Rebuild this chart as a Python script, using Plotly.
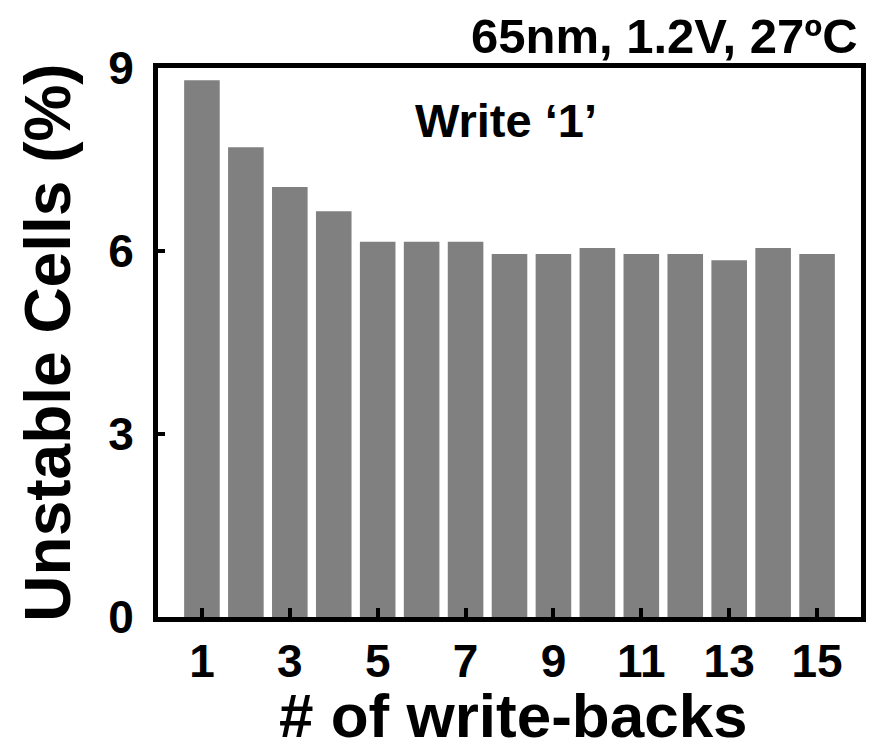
import plotly.graph_objects as go

write_backs = list(range(1, 16))
unstable_pct = [8.8, 7.7, 7.05, 6.65, 6.15, 6.15, 6.15, 5.95, 5.95, 6.05, 5.95, 5.95, 5.85, 6.05, 5.95]
x_ticks = [1, 3, 5, 7, 9, 11, 13, 15]
y_ticks = [0, 3, 6, 9]

FONT = "Liberation Sans, Arial, sans-serif"

fig = go.Figure(go.Bar(x=write_backs, y=unstable_pct, width=0.81,
                       marker=dict(color="#808080", line=dict(width=0))))

fig.update_layout(
    width=874, height=742,
    margin=dict(l=158, r=8, t=68, b=125),
    plot_bgcolor="white", paper_bgcolor="white",
    showlegend=False,
    font=dict(family=FONT, color="black"),
    xaxis=dict(range=[0, 16], tickvals=x_ticks, ticktext=[str(v) for v in x_ticks],
               ticks="inside", ticklen=9, tickwidth=4, tickcolor="black",
               showline=True, linewidth=5, linecolor="black", mirror=True,
               showgrid=False, zeroline=False,
               tickfont=dict(family=FONT, size=46, weight="bold")),
    yaxis=dict(range=[0, 9], tickvals=y_ticks,
               ticks="inside", ticklen=7, tickwidth=4, tickcolor="black",
               showline=True, linewidth=5, linecolor="black", mirror=True,
               showgrid=False, zeroline=False,
               tickfont=dict(family=FONT, size=46, weight="bold"),
               ticklabelstandoff=10,
               title=dict(text="Unstable Cells (%)", standoff=18,
                          font=dict(family=FONT, size=64, weight="bold"))),
    annotations=[
        dict(text="# of write-backs", x=0.505, y=-0.18, xref="paper", yref="paper",
             showarrow=False, xanchor="center", yanchor="middle",
             font=dict(family=FONT, size=62, weight="bold")),
        dict(text="Write \u20181\u2019", x=0.495, y=0.905, xref="paper", yref="paper",
             showarrow=False, xanchor="center", yanchor="middle",
             font=dict(family=FONT, size=47, weight="bold")),
        dict(text="65nm, 1.2V, 27\u00baC", x=0.9985, y=1.005, xref="paper", yref="paper",
             showarrow=False, xanchor="right", yanchor="bottom",
             font=dict(family=FONT, size=49, weight="bold")),
    ],
)

fig.write_html("out.html")
